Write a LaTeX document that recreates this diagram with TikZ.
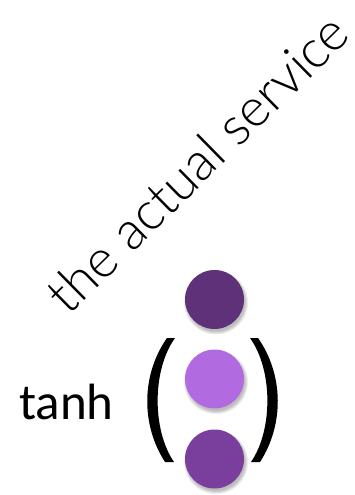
\documentclass[tikz,border=0pt]{standalone}
\usepackage{fontspec}
\setmainfont{Carlito}
\newfontfamily\rotfont{Lato Light}
\definecolor{ctop}{HTML}{5F3179}
\definecolor{cmid}{HTML}{B26AE0}
\definecolor{cbot}{HTML}{7A3E9C}
\tikzset{
  unit/.style={circle, minimum size=59pt, inner sep=0pt, fill=#1},
  shadowdisc/.style={fill=black, opacity=0.07},
  parenfill/.style={fill=black, draw=none}
}
\begin{document}
\begin{tikzpicture}[x=1pt,y=-1pt]
\useasboundingbox (0,0) rectangle (354,495);
% rotated caption
\node[rotate=44.5, inner sep=0pt, font=\rotfont\fontsize{53}{60}\selectfont] (cap) at (197,163) {the actual service};
% tanh
\node[anchor=base west, inner sep=0pt, font=\fontsize{51}{60}\selectfont] (tanh) at (19,419) {tanh};
% shadows
\foreach \cy in {299.5,379,459}{
  \foreach \r in {29,30,31,32}{
    \fill[shadowdisc] (216,\cy+3) circle (\r);
  }
}
% units
\node[unit=ctop] (u1) at (214.5,299.5) {};
\node[unit=cmid] (u2) at (214.5,379) {};
\node[unit=cbot] (u3) at (214.5,459) {};
% parentheses
\fill[parenfill] (167,338) .. controls (141,375) and (141,425) .. (165,462)
  -- (174,462) .. controls (152,430) and (152,370) .. (175,338) -- cycle;
\fill[parenfill] (258,338) .. controls (284,375) and (284,425) .. (260,462)
  -- (251,462) .. controls (273,430) and (273,370) .. (250,338) -- cycle;
\end{tikzpicture}
\end{document}
